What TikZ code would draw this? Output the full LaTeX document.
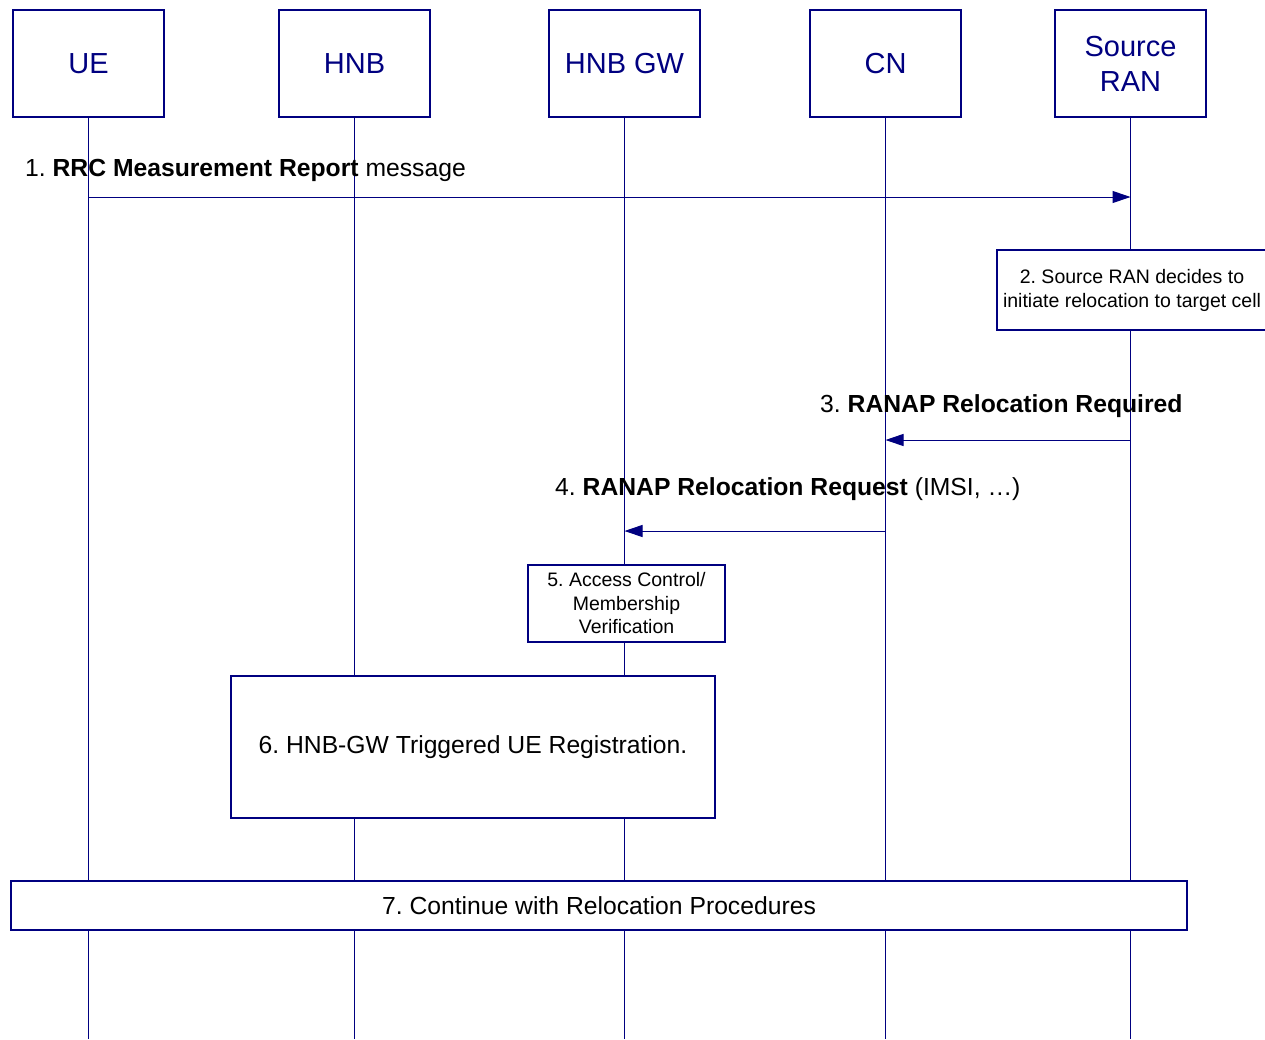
\documentclass[tikz,border=0pt]{standalone}
\usepackage{fontspec}
\setmainfont{Liberation Sans}
\usetikzlibrary{positioning,arrows.meta}
\definecolor{seqblue}{RGB}{0,0,128}
\frenchspacing

\begin{document}
\begin{tikzpicture}[x=1pt,y=-1pt,
		entity/.style={draw=seqblue,line width=1.5pt,fill=white,minimum width=151pt,minimum height=107pt,
			text=seqblue,font=\fontsize{29}{35}\selectfont,align=center,inner sep=0pt},
		lifeline/.style={draw=seqblue,line width=1.5pt},
		msg/.style={draw=seqblue,line width=1pt,-{Triangle[length=18pt,width=12pt]}},
		msglabel/.style={font=\fontsize{24.7}{29}\selectfont,inner sep=0pt,anchor=base west},
		action/.style={draw=seqblue,line width=1.5pt,fill=white,align=center,inner sep=0pt}
	]
		\useasboundingbox (0,0) rectangle (1265,1039);
		\fill[white] (0,0) rectangle (1265,1039);

		\node[entity] (ue) at (88.5,63.5) {UE};
		\node[entity] (hnb) at (354.5,63.5) {HNB};
		\node[entity] (hnbgw) at (624.5,63.5) {HNB GW};
		\node[entity] (cn) at (885.5,63.5) {CN};
		\node[entity] (sran) at (1130.5,63.5) {Source\\RAN};

		\coordinate (bottom) at (0,1039);
		\foreach \n in {ue,hnb,hnbgw,cn,sran}
			\draw[lifeline] (\n) -- (\n |- bottom);

		% messages
		\coordinate (m1) at (0,197);
		\coordinate (m3) at (0,440);
		\coordinate (m4) at (0,531);
		\draw[msg] (ue |- m1) -- (sran |- m1);
		\draw[msg] (sran |- m3) -- (cn |- m3);
		\draw[msg] (cn |- m4) -- (hnbgw |- m4);
		\node[msglabel] (l1) at (25,176) {1. \textbf{RRC Measurement Report} message};
		\node[msglabel] (l3) at (820,412) {3. \textbf{RANAP Relocation Required}};
		\node[msglabel] (l4) at (555,495) {4. \textbf{RANAP Relocation Request} (IMSI, \dots)};

		% procedure boxes
		\node[action,minimum width=270pt,minimum height=80pt,font=\fontsize{19.5}{24}\selectfont]
			(s2) at (1132,290) {2. Source RAN decides to\\initiate relocation to target cell};
		\node[action,minimum width=197pt,minimum height=77pt,font=\fontsize{19.5}{23.5}\selectfont]
			(s5) at (626.5,603.5) {5. Access Control/\\Membership\\Verification};
		\node[action,minimum width=484pt,minimum height=142pt,font=\fontsize{24.7}{29}\selectfont]
			(s6) at (473,747) {6. HNB-GW Triggered UE Registration.};
		\node[action,minimum width=1176pt,minimum height=49pt,font=\fontsize{24.7}{29}\selectfont]
			(s7) at (599,905.5) {7. Continue with Relocation Procedures};
	\end{tikzpicture}
\end{document}
